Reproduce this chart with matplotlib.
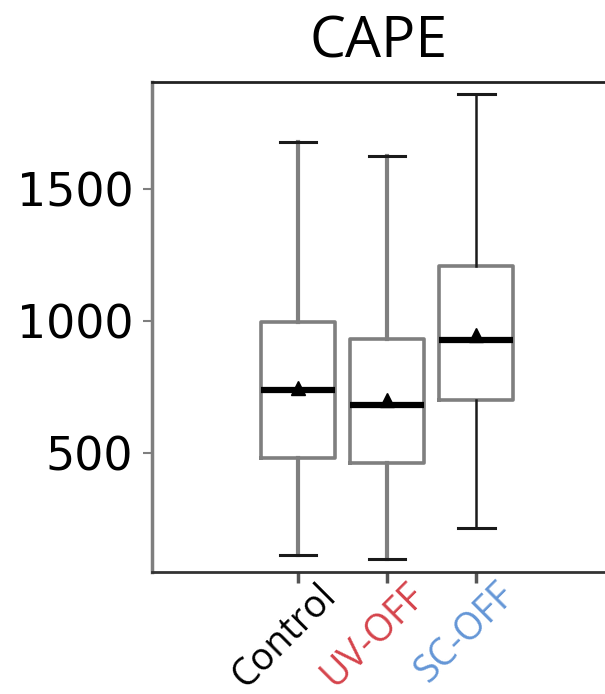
import matplotlib
matplotlib.use("Agg")
import matplotlib.pyplot as plt
import matplotlib.transforms as mtransforms

categories = ["Control", "UV-OFF", "SC-OFF"]
label_colors = ["#000000", "#d5434b", "#6496d6"]
whislo = [114, 98, 216]
q1 = [481, 462, 700]
med = [739, 682, 928]
mean = [746, 700, 947]
q3 = [996, 932, 1208]
whishi = [1678, 1625, 1860]
yticks = [500, 1000, 1500]

fig = plt.figure(figsize=(6.05, 6.94), dpi=100)
ax = fig.add_axes([152/605, (694-572)/694, 454/605, 490/694])

positions = list(range(len(categories)))
whisker_colors = ["#7f7f7f", "#7f7f7f", "#1a1a1a"]
whisker_lw = [3.0, 3.0, 1.8]
for i, p in enumerate(positions):
    st = [dict(whislo=whislo[i], q1=q1[i], med=med[i], q3=q3[i], whishi=whishi[i],
               mean=mean[i], fliers=[], label=categories[i])]
    ax.bxp(st, positions=[p], widths=0.83, showmeans=True, showfliers=False,
           boxprops=dict(color="#7f7f7f", linewidth=2.6),
           whiskerprops=dict(color=whisker_colors[i], linewidth=whisker_lw[i]),
           capprops=dict(color="#1a1a1a", linewidth=2.2),
           medianprops=dict(color="black", linewidth=4.5),
           meanprops=dict(marker="^", markerfacecolor="black", markeredgecolor="black",
                          markersize=10))

ax.set_xlim(-1.64, 3.46)
ax.set_ylim(49, 1905)
ax.set_xticks(positions)
ax.set_xticklabels([""] * len(categories))
offset = mtransforms.ScaledTranslation(19/100, -4/100, fig.dpi_scale_trans)
for p, name, c in zip(positions, categories, label_colors):
    ax.text(p, 0, name, transform=ax.get_xaxis_transform() + offset,
            rotation=45, rotation_mode="anchor", ha="right", va="top",
            fontsize=27, family="Open Sans", color=c)
ax.set_yticks(yticks)
ax.tick_params(axis="y", labelsize=33, length=6.5, width=1.5, color="#7f7f7f", pad=7)
ax.tick_params(axis="x", length=8, width=2.5, color="#555555", pad=4)
ax.spines["left"].set_color("#7f7f7f")
ax.spines["left"].set_linewidth(2.5)
ax.spines["bottom"].set_color("#333333")
ax.spines["bottom"].set_linewidth(2)
ax.spines["top"].set_color("#222222")
ax.spines["top"].set_linewidth(2)
ax.set_title("CAPE", fontsize=41, family="Open Sans", pad=18)

fig.savefig("out.png", dpi=100)
